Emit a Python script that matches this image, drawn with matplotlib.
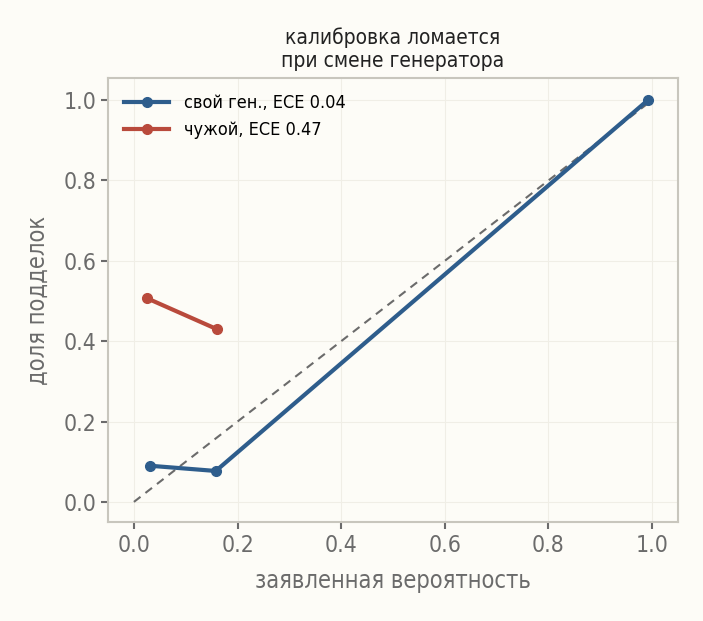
import matplotlib
matplotlib.use("Agg")
import matplotlib.pyplot as plt
import numpy as np

plt.rcParams['font.family'] = ['DejaVu Sans']
plt.rcParams['font.stretch'] = 'condensed'

own_x = [0.031, 0.158, 0.992]
own_y = [0.090, 0.077, 1.000]
foreign_x = [0.025, 0.160]
foreign_y = [0.507, 0.430]
ticks = [0.0, 0.2, 0.4, 0.6, 0.8, 1.0]

bg = '#fdfcf7'
blue = '#2e5d8c'
red = '#b94a3c'
gray = '#6b6b6b'

fig = plt.figure(figsize=(7.03, 6.21), dpi=100, facecolor=bg)
ax = fig.add_axes([108/703, 1 - 522/621, 570/703, 444/621])
ax.set_facecolor(bg)

ax.plot([0, 1], [0, 1], ls='--', color='#6b6b6b', lw=1.5, dashes=(4, 3), zorder=2)
ax.plot(own_x, own_y, '-o', color=blue, lw=3, ms=7, label='свой ген., ECE 0.04', zorder=3)
ax.plot(foreign_x, foreign_y, '-o', color=red, lw=3, ms=7, label='чужой, ECE 0.47', zorder=3)

ax.set_xlim(-0.05, 1.05)
ax.set_ylim(-0.05, 1.055)
ax.set_xticks(ticks)
ax.set_yticks(ticks)
ax.set_xticklabels([f'{t:.1f}' for t in ticks])
ax.set_yticklabels([f'{t:.1f}' for t in ticks])
ax.tick_params(colors=gray, labelsize=16.5, length=5, width=1.5, labelcolor=gray)
ax.grid(True, color='#f0eee6', lw=0.8)
for s in ax.spines.values():
    s.set_color('#c8c6bd')
    s.set_linewidth(1.5)

ax.set_xlabel('заявленная вероятность', fontsize=17, color=gray, labelpad=9)
ax.set_ylabel('доля подделок', fontsize=17, color=gray, labelpad=10)
ax.set_title('калибровка ломается\nпри смене генератора', fontsize=15, color='#222222', pad=8)
ax.legend(loc='upper left', frameon=False, fontsize=13, handlelength=2.5)

fig.savefig('out.png', dpi=100, facecolor=bg)
